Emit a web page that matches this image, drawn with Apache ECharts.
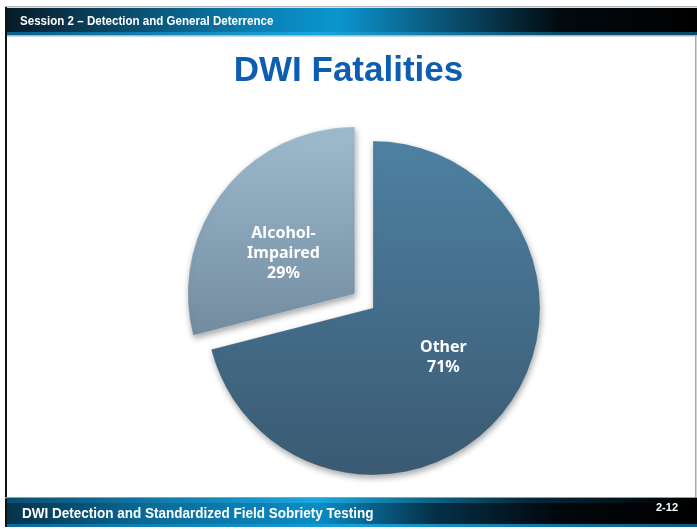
<!DOCTYPE html>
<html>
<head>
<meta charset="utf-8">
<script src="https://cdn.jsdelivr.net/npm/echarts@6/dist/echarts.min.js"></script>
<style>
html,body{margin:0;padding:0;background:#fff;}
#c{width:697px;height:529px;}
</style>
</head>
<body>
<div id="c"></div>
<script>
var categories = ['Other', 'Alcohol-Impaired'];
var values = [71, 29];
var headerText = 'Session 2 \u2013 Detection and General Deterrence';
var footerText = 'DWI Detection and Standardized Field Sobriety Testing';
var pageText = '2-12';
var titleText = 'DWI Fatalities';

var chart = echarts.init(document.getElementById('c'));

var barGrad = function(stops){
  return new echarts.graphic.LinearGradient(0,0,1,0, stops);
};

var option = {
  backgroundColor: '#ffffff',
  animation: false,
  title: {
    text: titleText,
    left: 'center',
    top: 49,
    textStyle: {fontFamily: 'Liberation Sans, Arial, sans-serif', fontWeight: 'bold', fontSize: 35, color: '#0d5db3'}
  },
  graphic: [
    {type:'rect', shape:{x:5,y:6,width:692,height:1.5}, style:{fill:'#b8b8b8'}, z:-1},
    {type:'rect', shape:{x:5,y:7,width:2,height:520}, style:{fill:'#111'}, z:-1},
    {type:'rect', shape:{x:695,y:36,width:1.5,height:462}, style:{fill:'#a8a8a8'}, z:-1},
    {type:'rect', shape:{x:7,y:8,width:690,height:26},
      style:{fill: barGrad([{offset:0,color:'#061c28'},{offset:0.12,color:'#0a3d58'},{offset:0.35,color:'#0a7db0'},{offset:0.48,color:'#0b96d0'},{offset:0.64,color:'#0a5070'},{offset:0.8,color:'#020a10'},{offset:1,color:'#000000'}])}},
    {type:'rect', shape:{x:7,y:32,width:690,height:3},
      style:{fill: barGrad([{offset:0,color:'#0a5f8a'},{offset:0.45,color:'#18a8e0'},{offset:0.8,color:'#0a4a68'},{offset:1,color:'#0a4a68'}])}},
    {type:'rect', shape:{x:7,y:35,width:690,height:1.5}, style:{fill:'#9fb8c6'}},
    {type:'text', x:20, y:21, scaleX:0.89, style:{text: headerText, x:0, y:0, verticalAlign:'middle', fill:'#ffffff', font:'bold 13px "Liberation Sans Narrow", "Liberation Sans", Arial, sans-serif'}},
    {type:'rect', shape:{x:5,y:497,width:692,height:1.5}, style:{fill:'#9a9a9a'}},
    {type:'rect', shape:{x:7,y:498,width:690,height:5},
      style:{fill: barGrad([{offset:0,color:'#0a4f72'},{offset:0.45,color:'#1aa8e0'},{offset:0.75,color:'#062a3c'},{offset:1,color:'#000'}])}},
    {type:'rect', shape:{x:7,y:503,width:690,height:21},
      style:{fill: barGrad([{offset:0,color:'#06334a'},{offset:0.2,color:'#0a6a98'},{offset:0.45,color:'#0b8cc4'},{offset:0.62,color:'#053048'},{offset:0.8,color:'#01070b'},{offset:1,color:'#000'}])}},
    {type:'rect', shape:{x:7,y:524,width:690,height:3},
      style:{fill: barGrad([{offset:0,color:'#0a6a98'},{offset:0.5,color:'#16a0d8'},{offset:1,color:'#0a5a80'}])}},
    {type:'text', x:22, y:514, scaleX:0.9, style:{text: footerText, x:0, y:0, verticalAlign:'middle', fill:'#ffffff', font:'bold 15px "Liberation Sans Narrow", "Liberation Sans", Arial, sans-serif'}},
    {type:'text', style:{text: pageText, x:678, y:508, align:'right', verticalAlign:'middle', fill:'#ffffff', font:'bold 11px "Liberation Sans", Arial, sans-serif'}}
  ],
  series: [{
    type: 'pie',
    center: [373, 308],
    radius: 167,
    startAngle: 90,
    clockwise: true,
    selectedMode: 'single',
    selectedOffset: 23,
    avoidLabelOverlap: false,
    label: {
      position: 'inside',
      color: '#ffffff',
      fontFamily: 'Noto Sans, Open Sans, sans-serif',
      fontWeight: 'bold',
      fontSize: 16,
      lineHeight: 20,
      textBorderWidth: 0,
      formatter: function(p){ return p.name.replace('-', '-\n') + '\n' + p.value + '%'; }
    },
    labelLine: {show: false},
    emphasis: {disabled: true},
    data: [
      {name: categories[0], value: values[0],
        label: {offset: [2, -4]},
        itemStyle: {color: new echarts.graphic.LinearGradient(0,0,0,1,[{offset:0,color:'#4e81a2'},{offset:1,color:'#3a5a72'}]),
          borderColor: 'rgba(255,255,255,0.18)', borderWidth: 1,
          shadowBlur: 6, shadowColor:'rgba(0,0,0,0.35)', shadowOffsetX: 1, shadowOffsetY: 3}},
      {name: categories[1], value: values[1], selected: true,
        label: {offset: [-3, 13]},
        select: {label: {offset: [-3, 13]}},
        itemStyle: {color: new echarts.graphic.LinearGradient(0,0,0,1,[{offset:0,color:'#9fbbce'},{offset:1,color:'#728ba0'}]),
          borderColor: 'rgba(255,255,255,0.25)', borderWidth: 1,
          shadowBlur: 6, shadowColor:'rgba(0,0,0,0.35)', shadowOffsetX: 1, shadowOffsetY: 3}}
    ]
  }]
};
chart.setOption(option);
</script>
</body>
</html>
